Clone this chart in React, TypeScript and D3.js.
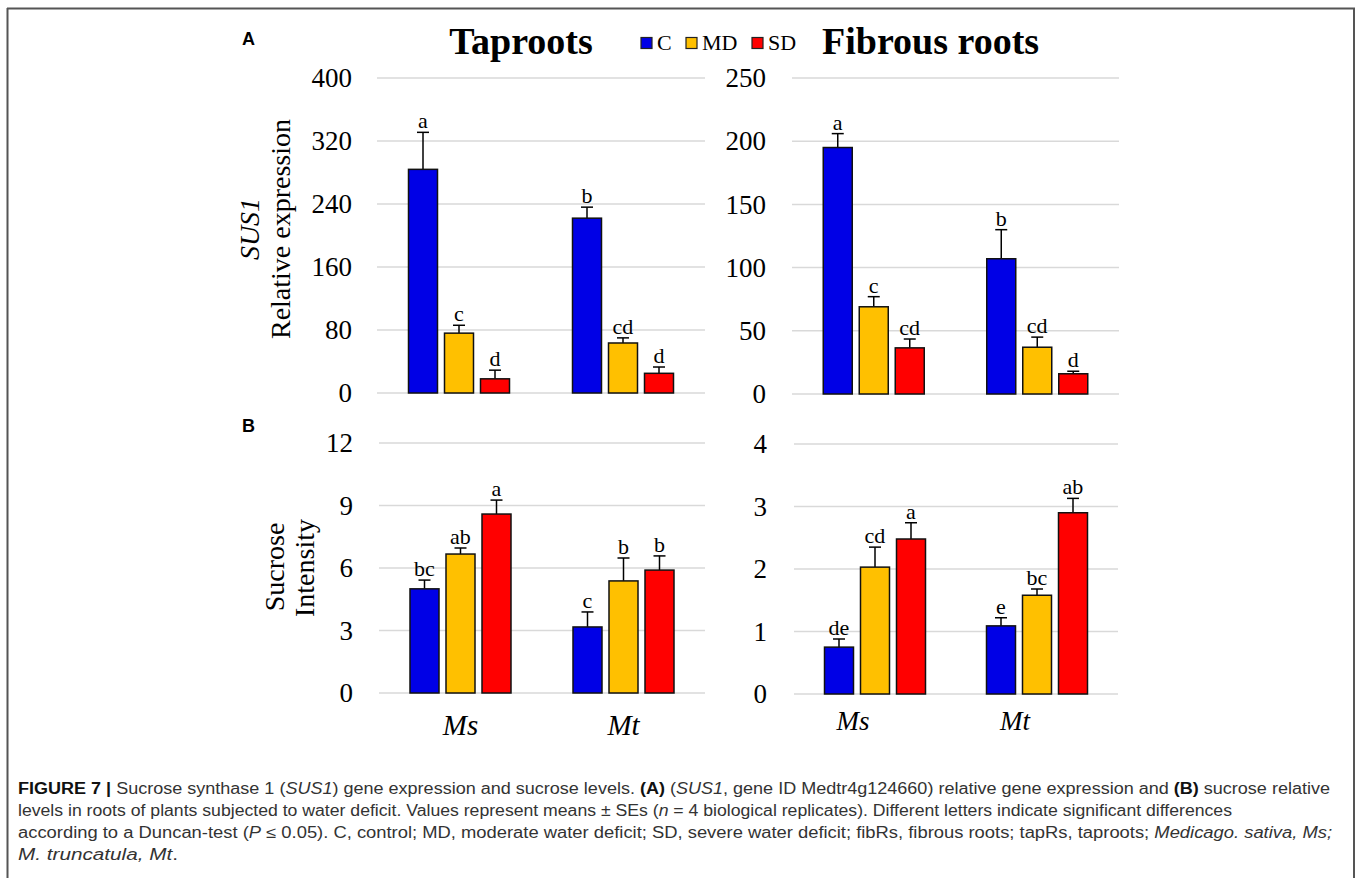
import React from 'react';
import * as d3 from 'd3';

const categories = ['Ms', 'Mt'];
const series = ['C', 'MD', 'SD'];
const seriesColors = ['#0000E6', '#FFC000', '#FF0000'];

// Panel A – SUS1 relative expression
const tapExprTicks = [0, 80, 160, 240, 320, 400];
const tapExprMs = [284, 76, 18];
const tapExprMt = [222, 63.5, 25];
const tapExprErrMs = [47, 10, 11];
const tapExprErrMt = [14, 6.5, 8];
const tapExprLetMs = ['a', 'c', 'd'];
const tapExprLetMt = ['b', 'cd', 'd'];

const fibExprTicks = [0, 50, 100, 150, 200, 250];
const fibExprMs = [195, 69, 36.5];
const fibExprMt = [107, 37, 16];
const fibExprErrMs = [11, 8, 7];
const fibExprErrMt = [23, 8, 2];
const fibExprLetMs = ['a', 'c', 'cd'];
const fibExprLetMt = ['b', 'cd', 'd'];

// Panel B – sucrose intensity
const tapSucTicks = [0, 3, 6, 9, 12];
const tapSucMs = [5.0, 6.67, 8.59];
const tapSucMt = [3.17, 5.38, 5.9];
const tapSucErrMs = [0.42, 0.29, 0.67];
const tapSucErrMt = [0.72, 1.1, 0.68];
const tapSucLetMs = ['bc', 'ab', 'a'];
const tapSucLetMt = ['c', 'b', 'b'];

const fibSucTicks = [0, 1, 2, 3, 4];
const fibSucMs = [0.75, 2.03, 2.48];
const fibSucMt = [1.09, 1.58, 2.9];
const fibSucErrMs = [0.13, 0.32, 0.26];
const fibSucErrMt = [0.13, 0.1, 0.23];
const fibSucLetMs = ['de', 'cd', 'a'];
const fibSucLetMt = ['e', 'bc', 'ab'];

const SERIF = '"Liberation Serif", "Times New Roman", serif';
const SANS = '"Liberation Sans", Arial, sans-serif';

type PanelProps = {
  xr: [number, number];
  yr: [number, number];
  ticks: number[];
  values: number[][];
  errs: number[][];
  letters: string[][];
  tickX: number;
  catY?: number;
  catDx?: number;
  catSize?: number;
};

function Panel({ xr, yr, ticks, values, errs, letters, tickX, catY, catDx = 0, catSize = 28 }: PanelProps) {
  const x0 = d3.scaleBand<string>().domain(categories).range(xr).padding(0);
  const x1 = d3.scaleBand<string>().domain(series).range([-50.5, 50.5]).paddingInner(7 / 36).paddingOuter(0);
  const y = d3.scaleLinear().domain([0, ticks[ticks.length - 1]]).range(yr);
  return (
    <g>
      {ticks.map((t) => (
        <g key={t}>
          <line x1={xr[0]} x2={xr[1]} y1={y(t)} y2={y(t)} stroke="#d9d9d9" strokeWidth={1.5} />
          <text x={tickX} y={y(t)} dy="0.34em" textAnchor="end" fontFamily={SERIF} fontSize={27} fill="#000">
            {t}
          </text>
        </g>
      ))}
      {categories.map((c, ci) => {
        const cx = (x0(c) as number) + x0.bandwidth() / 2;
        return (
          <g key={c}>
            {series.map((s, si) => {
              const v = values[ci][si];
              const e = errs[ci][si];
              const bx = cx + (x1(s) as number);
              const bw = x1.bandwidth();
              const mid = bx + bw / 2;
              return (
                <g key={s}>
                  <line x1={mid} x2={mid} y1={y(v)} y2={y(v + e)} stroke="#000" strokeWidth={1.5} />
                  <line x1={mid - 6} x2={mid + 6} y1={y(v + e)} y2={y(v + e)} stroke="#000" strokeWidth={1.5} />
                  <rect x={bx} y={y(v)} width={bw} height={y(0) - y(v)} fill={seriesColors[si]} stroke="#111" strokeWidth={1.5} />
                  <text x={mid} y={y(v + e) - 4} textAnchor="middle" fontFamily={SERIF} fontSize={22} fill="#000">
                    {letters[ci][si]}
                  </text>
                </g>
              );
            })}
            {catY !== undefined && (
              <text x={cx + catDx} y={catY} textAnchor="middle" fontFamily={SERIF} fontStyle="italic" fontSize={catSize} fill="#000">
                {c}
              </text>
            )}
          </g>
        );
      })}
    </g>
  );
}

const captionLines = [
  {
    len: 1312,
    parts: [
      { t: 'FIGURE 7 |', b: true },
      { t: ' Sucrose synthase 1 (' },
      { t: 'SUS1', i: true },
      { t: ') gene expression and sucrose levels. ' },
      { t: '(A)', b: true },
      { t: ' (' },
      { t: 'SUS1', i: true },
      { t: ', gene ID Medtr4g124660) relative gene expression and ' },
      { t: '(B)', b: true },
      { t: ' sucrose relative' },
    ],
  },
  {
    len: 1214,
    parts: [
      { t: 'levels in roots of plants subjected to water deficit. Values represent means \u00B1 SEs (' },
      { t: 'n', i: true },
      { t: ' = 4 biological replicates). Different letters indicate significant differences' },
    ],
  },
  {
    len: 1314,
    parts: [
      { t: 'according to a Duncan-test (' },
      { t: 'P', i: true },
      { t: ' \u2264 0.05). C, control; MD, moderate water deficit; SD, severe water deficit; fibRs, fibrous roots; tapRs, taproots; ' },
      { t: 'Medicago. sativa, Ms;', i: true },
    ],
  },
  {
    len: 160,
    parts: [{ t: 'M. truncatula, Mt', i: true }, { t: '.' }],
  },
];

export default function App() {
  return (
    <svg
      width={1358}
      height={878}
      style={{ position: 'absolute', left: 0, top: 0, background: '#fff' }}
      xmlns="http://www.w3.org/2000/svg"
    >
      <rect x={0} y={0} width={1358} height={878} fill="#fff" />
      {/* frame */}
      <line x1={7} x2={1355} y1={8.5} y2={8.5} stroke="#555" strokeWidth={2} />
      <line x1={7.5} x2={7.5} y1={8} y2={878} stroke="#555" strokeWidth={2} />
      <line x1={1354} x2={1354} y1={8} y2={878} stroke="#555" strokeWidth={2} />

      {/* panel letters */}
      <text x={242} y={45} fontFamily={SANS} fontWeight="bold" fontSize={18}>A</text>
      <text x={242} y={432} fontFamily={SANS} fontWeight="bold" fontSize={18}>B</text>

      {/* titles */}
      <text x={521} y={54} textAnchor="middle" fontFamily={SERIF} fontWeight="bold" fontSize={38}>Taproots</text>
      <text x={822} y={54} fontFamily={SERIF} fontWeight="bold" fontSize={38}>Fibrous roots</text>

      {/* legend */}
      {series.map((s, i) => {
        const lx = [641, 686, 752][i];
        return (
          <g key={s}>
            <rect x={lx} y={37.5} width={11} height={11} fill={seriesColors[i]} stroke="#222" strokeWidth={1.2} />
            <text x={lx + 16} y={50} fontFamily={SERIF} fontSize={22}>{s}</text>
          </g>
        );
      })}

      {/* y axis labels */}
      <text transform="translate(259,229) rotate(-90)" textAnchor="middle" fontFamily={SERIF} fontStyle="italic" fontSize={28}>SUS1</text>
      <text transform="translate(290,229) rotate(-90)" textAnchor="middle" fontFamily={SERIF} fontSize={28}>Relative expression</text>
      <text transform="translate(284,567) rotate(-90)" textAnchor="middle" fontFamily={SERIF} fontSize={28}>Sucrose</text>
      <text transform="translate(314,568) rotate(-90)" textAnchor="middle" fontFamily={SERIF} fontSize={28}>Intensity</text>

      <Panel
        xr={[377, 705]}
        yr={[393, 78]}
        ticks={tapExprTicks}
        values={[tapExprMs, tapExprMt]}
        errs={[tapExprErrMs, tapExprErrMt]}
        letters={[tapExprLetMs, tapExprLetMt]}
        tickX={352}
      />
      <Panel
        xr={[792, 1119]}
        yr={[394, 78]}
        ticks={fibExprTicks}
        values={[fibExprMs, fibExprMt]}
        errs={[fibExprErrMs, fibExprErrMt]}
        letters={[fibExprLetMs, fibExprLetMt]}
        tickX={766}
      />
      <Panel
        xr={[379, 705]}
        yr={[693, 443]}
        ticks={tapSucTicks}
        values={[tapSucMs, tapSucMt]}
        errs={[tapSucErrMs, tapSucErrMt]}
        letters={[tapSucLetMs, tapSucLetMt]}
        tickX={353}
        catY={735}
        catDx={0}
        catSize={29}
      />
      <Panel
        xr={[794, 1118]}
        yr={[694, 444]}
        ticks={fibSucTicks}
        values={[fibSucMs, fibSucMt]}
        errs={[fibSucErrMs, fibSucErrMt]}
        letters={[fibSucLetMs, fibSucLetMt]}
        tickX={767}
        catY={730}
        catDx={-22}
        catSize={27}
      />

      {/* caption */}
      {captionLines.map((ln, li) => (
        <text
          key={li}
          x={18}
          y={794 + li * 22}
          fontFamily={SANS}
          fontSize={16}
          fill="#333"
          textLength={ln.len}
          lengthAdjust="spacingAndGlyphs"
        >
          {ln.parts.map((p: any, pi) => (
            <tspan key={pi} fontWeight={p.b ? 'bold' : 'normal'} fontStyle={p.i ? 'italic' : 'normal'} fill={p.b ? '#111' : '#333'}>
              {p.t}
            </tspan>
          ))}
        </text>
      ))}
    </svg>
  );
}
